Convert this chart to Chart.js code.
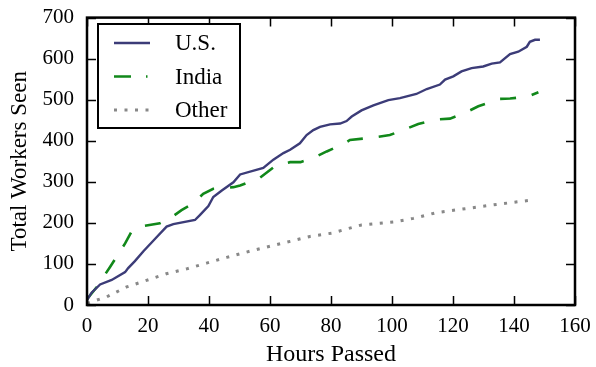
<!DOCTYPE html>
<html>
<head>
<meta charset="utf-8">
<script src="https://cdn.jsdelivr.net/npm/chart.js@4/dist/chart.umd.min.js"></script>
<style>
  html, body { margin: 0; padding: 0; background: #fff; }
  #wrap { width: 596px; height: 367px; }
</style>
</head>
<body>
<div id="wrap"><canvas id="chart" width="596" height="367"></canvas></div>
<script>
// ── Data ──────────────────────────────────────────────────────────
const usHours = [0, 1.5, 4.3, 8.1, 12.5, 13.5, 15.7, 18.5, 22.8, 26.1, 28.3, 35.4, 37, 39.8, 41.4, 44.2, 48, 50.2, 57.8, 61.1, 64.4, 66.6, 69.8, 72, 74.2, 76.4, 79.7, 83, 85.1, 86.8, 90, 93.9, 98.8, 102.6, 108, 111.4, 115.7, 117.4, 120.1, 122.8, 126.1, 129.9, 132.7, 135.4, 138.7, 141.4, 144.2, 145.2, 146.9, 148.5];
const usWorkers = [12, 30, 50, 61, 80, 90, 107, 131, 165, 191, 197, 207, 219, 241, 263, 279, 299, 318, 334, 354, 370, 378, 394, 414, 426, 434, 440, 442, 448, 459, 474, 486, 499, 504, 514, 526, 537, 549, 557, 569, 577, 581, 588, 591, 611, 617, 629, 641, 646, 646];

const indiaHours = [0, 3.2, 7.5, 12.5, 14.6, 17.4, 23.9, 27.2, 31, 34.8, 38.1, 41.4, 48, 50.2, 56.7, 62, 66.6, 70, 74.2, 78.6, 84.6, 86.2, 93.9, 99.3, 104.3, 108.6, 114.6, 119, 124.5, 128.3, 133.8, 135.4, 138.7, 144.2, 148];
const indiaWorkers = [14, 44, 92, 150, 179, 191, 199, 211, 231, 247, 271, 283, 287, 291, 310, 340, 348, 348, 358, 374, 394, 402, 408, 414, 428, 441, 452, 454, 470, 484, 498, 502, 503, 507, 518];

const otherHours = [0, 3.2, 6.5, 13, 19.5, 26, 32.7, 39.2, 45.8, 53.4, 60, 66.6, 73.1, 80.2, 90, 100.4, 107, 114.6, 124.5, 134.3, 145.2];
const otherWorkers = [4, 12, 20, 44, 60, 76, 88, 102, 116, 131, 143, 155, 167, 175, 195, 202, 211, 225, 235, 245, 255];

const xTicks = [0, 20, 40, 60, 80, 100, 120, 140, 160];
const yTicks = [0, 100, 200, 300, 400, 500, 600, 700];

const toPoints = (xs, ys) => xs.map((x, i) => ({ x, y: ys[i] }));

const FONT = 'Liberation Serif';

// ── Inward ticks + frame + boxed legend ───────────────────────────
const framePlugin = {
  id: 'frame',
  afterDatasetsDraw(chart) {
    const { ctx, chartArea: a, scales } = chart;
    const len = 9;
    ctx.save();
    ctx.strokeStyle = '#000';
    ctx.lineWidth = 1.5;
    ctx.beginPath();
    xTicks.forEach(v => {
      const px = Math.round(scales.x.getPixelForValue(v)) + 0.5;
      ctx.moveTo(px, a.bottom); ctx.lineTo(px, a.bottom - len);
      ctx.moveTo(px, a.top); ctx.lineTo(px, a.top + len);
    });
    yTicks.forEach(v => {
      const py = Math.round(scales.y.getPixelForValue(v)) + 0.5;
      ctx.moveTo(a.left, py); ctx.lineTo(a.left + len, py);
      ctx.moveTo(a.right, py); ctx.lineTo(a.right - len, py);
    });
    ctx.stroke();
    ctx.lineWidth = 2.5;
    ctx.strokeRect(a.left, a.top, a.right - a.left, a.bottom - a.top);

    // legend box
    const bx = 98, by = 24, bw = 142, bh = 104;
    ctx.fillStyle = '#fff';
    ctx.fillRect(bx, by, bw, bh);
    ctx.lineWidth = 2;
    ctx.strokeRect(bx, by, bw, bh);
    ctx.font = `23px "${FONT}"`;
    ctx.textBaseline = 'middle';
    chart.data.datasets.forEach((ds, i) => {
      const y = by + 19 + i * 33.5;
      ctx.strokeStyle = ds.borderColor;
      ctx.lineWidth = ds.borderWidth;
      ctx.setLineDash(ds.legendDash || ds.borderDash || []);
      ctx.beginPath();
      ctx.moveTo(bx + 16, y);
      ctx.lineTo(bx + 52, y);
      ctx.stroke();
      ctx.setLineDash([]);
      ctx.fillStyle = '#000';
      ctx.fillText(ds.label, bx + 77, y + 1);
    });
    ctx.restore();
  },
};

new Chart(document.getElementById('chart'), {
  type: 'line',
  data: {
    datasets: [
      {
        label: 'U.S.',
        data: toPoints(usHours, usWorkers),
        borderColor: '#3c3c78',
        borderWidth: 2.4,
        pointRadius: 0,
        tension: 0,
      },
      {
        label: 'India',
        data: toPoints(indiaHours, indiaWorkers),
        borderColor: '#11881a',
        borderWidth: 2.6,
        borderDash: [16, 16],
        legendDash: [17, 15, 1.5, 20],
        pointRadius: 0,
        tension: 0,
      },
      {
        label: 'Other',
        data: toPoints(otherHours, otherWorkers),
        borderColor: '#888888',
        borderWidth: 3,
        borderDash: [3, 7.5],
        pointRadius: 0,
        tension: 0,
      },
    ],
  },
  options: {
    responsive: false,
    animation: false,
    layout: { padding: { top: 12, right: 21, left: 0, bottom: 0 } },
    plugins: {
      legend: { display: false },
      tooltip: { enabled: false },
    },
    scales: {
      x: {
        type: 'linear',
        min: 0,
        max: 160,
        afterFit: s => { s.height = 62; },
        afterBuildTicks: s => { s.ticks = xTicks.map(v => ({ value: v })); },
        grid: { display: false },
        border: { display: false },
        ticks: { color: '#000', font: { family: FONT, size: 21 }, padding: 1, maxRotation: 0 },
        title: { display: true, text: 'Hours Passed', color: '#000', font: { family: FONT, size: 24, lineHeight: 1 }, padding: { top: 0, bottom: 0 } },
      },
      y: {
        min: 0,
        max: 700,
        afterFit: s => { s.width = 87; },
        afterBuildTicks: s => { s.ticks = yTicks.map(v => ({ value: v })); },
        grid: { display: false },
        border: { display: false },
        ticks: { color: '#000', font: { family: FONT, size: 21 }, padding: 5 },
        title: { display: true, text: 'Total Workers Seen', color: '#000', font: { family: FONT, size: 23, lineHeight: 1 }, padding: { top: 8, bottom: 0 } },
      },
    },
  },
  plugins: [framePlugin],
});
</script>
</body>
</html>
